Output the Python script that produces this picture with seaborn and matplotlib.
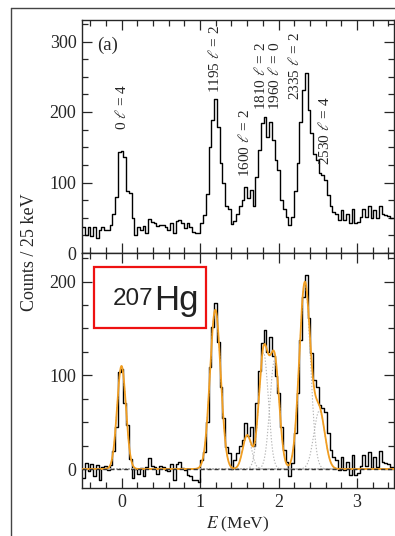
import numpy as np
import pandas as pd
import matplotlib
matplotlib.use("Agg")
import matplotlib.pyplot as plt
from matplotlib.lines import Line2D
from matplotlib.patches import Rectangle
from matplotlib.ticker import MultipleLocator
import seaborn as sns

# ---------------- data ----------------
bin_width = 0.035          # MeV per displayed bin
e_start = -0.5             # MeV, first bin edge

# raw spectrum (top panel)
counts_raw = [
    37, 26, 37, 24, 37, 21, 33, 37, 33, 33,
    40, 55, 80, 143, 145, 136, 88, 85, 50, 26,
    37, 33, 38, 28, 48, 44, 42, 38, 40, 40,
    37, 33, 42, 28, 46, 47, 42, 35, 42, 37,
    30, 28, 28, 42, 54, 84, 150, 189, 219, 179,
    127, 99, 66, 62, 41, 45, 56, 66, 75, 94,
    78, 90, 66, 108, 146, 184, 193, 165, 186, 160,
    132, 118, 75, 63, 51, 40, 51, 88, 127, 186,
    231, 256, 203, 170, 141, 132, 113, 111, 103, 82,
    66, 58, 56, 47, 61, 47, 56, 42, 63, 42,
    44, 51, 63, 51, 66, 49, 61, 50, 67, 56,
    54, 53, 50,
]

# background-subtracted spectrum (bottom panel)
counts_sub = [
    -10, 6, -2, 5, -7, 4, -12, 2, 3, -1,
    4, 19, 45, 103, 107, 70, 47, 11, -10, 0,
    -5, 1, -7, 2, 12, 3, 2, -5, 3, 2,
    -1, -2, 5, -12, 5, 8, 1, -1, -6, -7,
    -12, -12, -14, 10, 18, 50, 109, 152, 177, 136,
    88, 54, 24, 17, 0, 10, 17, 25, 31, 49,
    35, 45, 25, 70, 105, 135, 148, 125, 141, 121,
    99, 81, 45, 20, 8, -8, 6, 38, 81, 138,
    184, 207, 161, 124, 95, 88, 68, 65, 61, 38,
    20, 13, 10, -1, 13, -1, 8, -6, 15, -6,
    -4, 3, 15, 3, 18, 1, 13, 2, 19, 8,
    6, 5, 2,
]

# Gaussian fit components
peak_energy = [0.0, 1.195, 1.60, 1.81, 1.95, 2.335, 2.52]
peak_amp = [110, 170, 36, 124, 116, 198, 62]
peak_sigma = [0.056, 0.068, 0.055, 0.060, 0.060, 0.070, 0.070]

# level labels (1810 and 1960 share one two-line label)
level_text = ["0 $\\ell$ = 4", "1195 $\\ell$ = 2", "1600 $\\ell$ = 2",
              "1810 $\\ell$ = 2\n1960 $\\ell$ = 0", "2335 $\\ell$ = 2",
              "2530 $\\ell$ = 4"]
label_E = [0.0, 1.185, 1.57, 1.862, 2.21, 2.58]
label_y = [174, 227, 108, 203, 217, 125]

# ---------------- style ----------------
sns.set_style("ticks")
plt.rcParams["font.family"] = ["Liberation Serif", "DejaVu Serif"]
plt.rcParams["mathtext.fontset"] = "stix"
plt.rcParams["axes.linewidth"] = 1.0

W, H = 395, 536
fig = plt.figure(figsize=(W / 100, H / 100), dpi=100)

x_left, x_right = 82, 394
ax1 = fig.add_axes([x_left / W, 1 - 253 / H, (x_right - x_left) / W, (253 - 20) / H])
ax2 = fig.add_axes([x_left / W, 1 - 488 / H, (x_right - x_left) / W, (488 - 253) / H])

edges = e_start + bin_width * np.arange(len(counts_raw) + 1)

df_raw = pd.DataFrame({"E": edges, "c": list(counts_raw) + [counts_raw[-1]]})
df_sub = pd.DataFrame({"E": edges, "c": list(counts_sub) + [counts_sub[-1]]})

sns.lineplot(data=df_raw, x="E", y="c", ax=ax1, drawstyle="steps-post",
             color="black", lw=1.0, errorbar=None)

# fit curves
xf = np.linspace(-0.55, 3.55, 1200)
comps = [a * np.exp(-(xf - e) ** 2 / (2 * s ** 2))
         for e, a, s in zip(peak_energy, peak_amp, peak_sigma)]
total = np.sum(comps, axis=0)

sns.lineplot(data=df_sub, x="E", y="c", ax=ax2, drawstyle="steps-post",
             color="black", lw=1.0, errorbar=None)
for c in comps:
    ax2.plot(xf, c, color="#b4b4b4", lw=0.8, ls=(0, (1.2, 1.6)), zorder=2)
sns.lineplot(x=xf, y=total, ax=ax2, color="#f19e22", lw=1.3, errorbar=None, zorder=4)
ax2.axhline(0, color="#333333", lw=1.0, ls=(0, (3, 2)), zorder=5)

xlim = ((x_left - 121.5) / 78.5, (x_right - 121.5) / 78.5)
for ax in (ax1, ax2):
    ax.set_xlim(*xlim)
    ax.xaxis.set_major_locator(MultipleLocator(1))
    ax.xaxis.set_minor_locator(MultipleLocator(0.2))
    ax.yaxis.set_major_locator(MultipleLocator(100))
    ax.yaxis.set_minor_locator(MultipleLocator(25))
    ax.tick_params(which="both", direction="in", top=True, right=True,
                   width=0.9, labelsize=13, pad=4)
    ax.tick_params(which="major", length=7)
    ax.tick_params(which="minor", length=4)
    ax.set_xlabel("")
    ax.set_ylabel("")
    for sp in ax.spines.values():
        sp.set_linewidth(1.0)
        sp.set_visible(True)

ax1.set_ylim(0, (253 - 20) / 0.705)
ax2.set_ylim((469 - 488) / 0.937, (469 - 253) / 0.937)
ax1.tick_params(labelbottom=False)

ax2.set_xlabel(r"$\it{E}$ (MeV)", fontsize=12.5, labelpad=3)
fig.text(29 / W, 1 - 252 / H, "Counts / 25 keV", rotation=90,
         ha="center", va="center", fontsize=13)

ax1.text(0.05, 0.93, "(a)", transform=ax1.transAxes, fontsize=13.5,
         ha="left", va="top")

for t, xe, yy in zip(level_text, label_E, label_y):
    ax1.text(xe, yy, t, rotation=90, ha="center", va="bottom",
             fontsize=11, linespacing=0.9, multialignment="left")

# red box with nucleus label
fig.add_artist(Rectangle((94 / W, 1 - 328 / H), 112 / W, 61 / H,
                         transform=fig.transFigure, fill=False,
                         edgecolor="#ee1111", lw=1.6))
fig.text(113 / W, 1 - 305 / H, "207", family="Liberation Sans",
         fontsize=17.5, color="#222222", ha="left", va="baseline")
fig.text(154 / W, 1 - 310 / H, "Hg", family="Liberation Sans",
         fontsize=25, color="#222222", ha="left", va="baseline")

# outer frame
fx = 11 / W
fy = 1 - 8 / H
fig.add_artist(Line2D([fx, fx], [0, fy], transform=fig.transFigure,
                      color="#444444", lw=1.0))
fig.add_artist(Line2D([fx, 1], [fy, fy], transform=fig.transFigure,
                      color="#444444", lw=1.0))

fig.savefig("out.png", dpi=100)
